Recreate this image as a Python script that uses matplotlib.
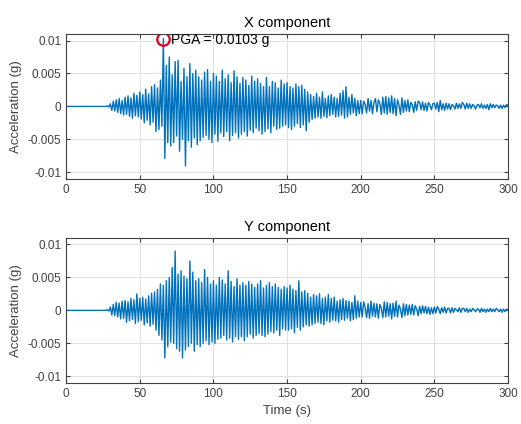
import numpy as np
import matplotlib.pyplot as plt

plt.rcParams['font.family'] = ['Liberation Sans', 'DejaVu Sans']

# acceleration samples, 1 s step from 0 to 300 s, in units of 1e-4 g
time_s = list(range(0, 301))

acc_x = [
    0, 0, 0, 0, 0, 0, 0, 0, 0, 0,
    0, 0, 0, 0, 0, 0, 0, 0, 0, 0,
    0, 0, 0, 0, 0, 0, 0, 0, 1, -1,
    4, -6, 8, -7, 10, -9, 12, -11, 9, -13,
    14, -12, 16, -15, 13, -18, 20, -14, 17, -16,
    22, -19, 18, -25, 26, -21, 19, -28, 30, -24,
    33, -38, 28, -35, 40, -30, 103, -79, 62, -55,
    75, -60, 48, -55, 68, -45, 70, -68, 38, -50,
    58, -90, 45, -52, 65, -62, 50, -48, 55, -58,
    45, -52, 40, -47, 52, -44, 56, -50, 38, -55,
    50, -42, 46, -53, 38, -40, 55, -46, 42, -38,
    48, -52, 36, -44, 54, -40, 45, -48, 35, -42,
    44, -38, 40, -45, 32, -36, 46, -40, 38, -33,
    42, -37, 35, -42, 30, -38, 44, -34, 30, -40,
    38, -30, 36, -35, 28, -33, 40, -30, 34, -28,
    36, -32, 30, -35, 28, -30, 34, -26, 30, -32,
    32, -28, 26, -37, 22, -24, 18, -20, 15, -18,
    20, -16, 14, -18, 22, -15, 12, -17, 16, -14,
    18, -12, 14, -16, 12, -15, 20, -13, 24, -18,
    30, -16, 14, -12, 18, -10, 12, -14, 9, -11,
    9, -11, 8, 3, -10, 12, -7, 9, -11, 6,
    12, -8, 10, 4, -12, 14, -10, 15, -12, 13,
    -9, 16, -11, 12, -14, 10, 2, -12, 13, -9,
    9, -7, 10, -8, 6, 3, -9, 7, -6, 8,
    6, -5, 7, -6, 5, -7, 6, 2, -5, 4,
    5, -4, 6, -8, 9, -5, 4, -6, 5, -4,
    4, -5, 3, 1, -4, 5, -3, 4, -3, 6,
    3, -4, 5, -3, 4, -3, 3, 1, -4, 2,
    3, -2, 4, -3, 2, -3, 3, -5, 4, -2,
    3, -2, 2, 1, -3, 2, -3, 2, -2, 3,
    1,
]

acc_y = [
    0, 0, 0, 0, 0, 0, 0, 0, 0, 0,
    0, 0, 0, 0, 0, 0, 0, 0, 0, 0,
    0, 0, 0, 0, 0, 0, 0, 0, 1, -1,
    5, -7, 9, -8, 12, -10, 11, -13, 14, -12,
    15, -18, 13, -16, 18, -14, 16, -20, 25, -17,
    18, -15, 20, -22, 17, -19, 22, -24, 26, -21,
    28, -30, 32, -38, 40, -45, 38, -72, 45, -55,
    50, -48, 65, -50, 90, -58, 55, -62, 60, -72,
    52, -60, 48, -55, 75, -50, 58, -62, 45, -52,
    48, -55, 42, -50, 62, -46, 50, -52, 40, -48,
    45, -50, 38, -44, 50, -42, 46, -38, 40, -45,
    60, -42, 44, -48, 36, -40, 48, -44, 38, -40,
    42, -46, 38, -40, 44, -36, 40, -42, 35, -38,
    40, -35, 45, -38, 34, -40, 38, -36, 42, -32,
    36, -34, 40, -30, 35, -38, 32, -28, 36, -30,
    34, -30, 38, -28, 32, -34, 30, -26, 45, -30,
    28, -25, 30, -22, 26, -24, 20, -22, 24, -20,
    22, -18, 25, -20, 18, -22, 20, -16, 24, -18,
    18, -15, 20, -16, 14, -18, 16, -14, 18, -15,
    15, -12, 14, -16, 12, -14, 22, -12, 14, -10,
    12, -10, 13, 4, -11, 10, -12, 14, -9, 11,
    -10, 10, -12, 9, 3, -11, 13, -10, 12, -9,
    10, -13, 11, -9, 14, -10, 8, 2, -11, 10,
    -8, 9, -7, 8, -6, 9, -7, 7, 2, -8,
    6, -5, 7, -4, 6, -5, 5, -6, 4, -5,
    5, -4, 6, 2, -5, 4, -3, 5, -4, 3,
    3, -4, 4, -3, 3, 1, -2, 4, -3, 3,
    3, -2, 3, -3, 2, -2, 3, 1, -2, 2,
    2, -3, 3, -2, 2, -3, 2, -2, 3, -2,
    2, -2, 3, 1, -2, 2, -3, 2, -2, 2,
    1,
]

titles = ['X component', 'Y component']
y_ticks = [-0.01, -0.005, 0, 0.005, 0.01]
y_tick_labels = ['-0.01', '-0.005', '0', '0.005', '0.01']
x_ticks = [0, 50, 100, 150, 200, 250, 300]

t = np.array(time_s)
ax_g = np.array(acc_x) * 1e-4
ay_g = np.array(acc_y) * 1e-4

fig = plt.figure(figsize=(5.21, 4.24), dpi=100)
ax1 = fig.add_axes([0.127, 0.578, 0.848, 0.342])
ax2 = fig.add_axes([0.127, 0.097, 0.848, 0.342])

for ax, acc, title in zip([ax1, ax2], [ax_g, ay_g], titles):
    ax.plot(t, acc, color='#0072BD', linewidth=1.0)
    ax.set_xlim(0, 300)
    ax.set_ylim(-0.011, 0.011)
    ax.set_xticks(x_ticks)
    ax.set_yticks(y_ticks)
    ax.set_yticklabels(y_tick_labels)
    ax.grid(True, color='#e0e0e0', linewidth=0.7)
    ax.set_axisbelow(True)
    ax.tick_params(direction='in', colors='#404040', labelsize=8.5, length=3,
                   top=True, right=True)
    for s in ax.spines.values():
        s.set_color('#404040')
        s.set_linewidth(0.8)
    ax.set_title(title, fontsize=10.5, color='black', pad=5)
    ax.set_ylabel('Acceleration (g)', fontsize=9.5, color='#404040')

ax2.set_xlabel('Time (s)', fontsize=9.5, color='#404040')

# mark PGA on the X component
i_pk = int(np.argmax(np.abs(ax_g)))
pga = abs(ax_g[i_pk])
ax1.plot(t[i_pk], ax_g[i_pk], 'o', markersize=9, markerfacecolor='none',
         markeredgecolor='#e8001c', markeredgewidth=1.6)
ax1.text(t[i_pk] + 5.5, ax_g[i_pk] - 0.0002, f'PGA = {pga:.4f} g', fontsize=10,
         va='center', ha='left')

fig.savefig('out.png', dpi=100)
